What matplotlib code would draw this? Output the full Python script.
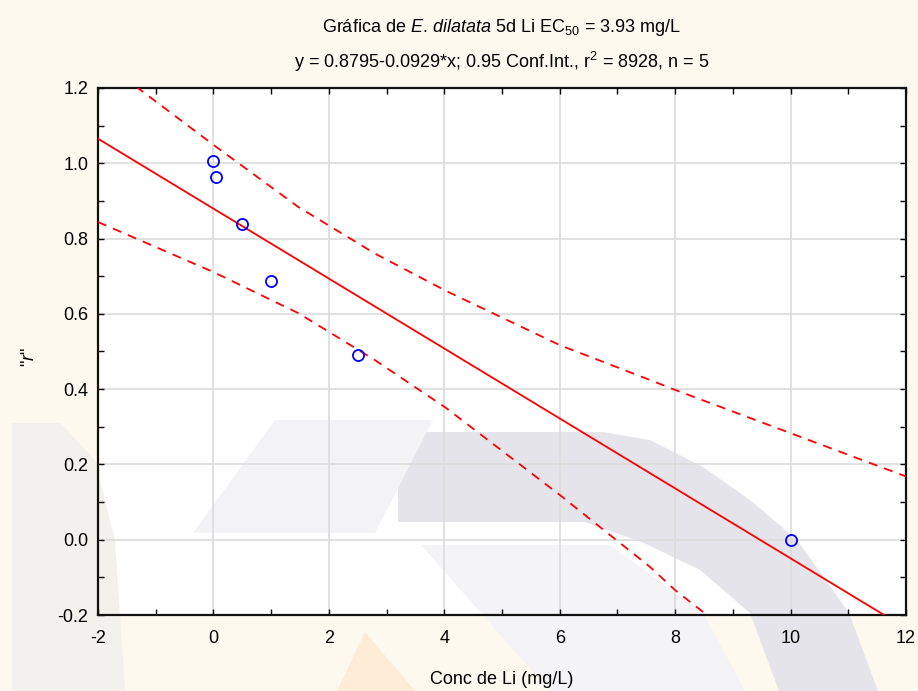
import matplotlib
matplotlib.use('agg')
import matplotlib.pyplot as plt
import numpy as np
from matplotlib.patches import Polygon
from matplotlib.ticker import MultipleLocator

# Data
conc = [0.0, 0.05, 0.5, 1.0, 2.5, 10.0]
r_vals = [1.005, 0.963, 0.838, 0.688, 0.490, 0.0]

intercept = 0.8795
slope = -0.0929

# 95% confidence bands
upper_x = [-2.0, -1.31, 0.0, 1.47, 2.8, 4.03, 6.0, 7.57, 8.0, 10.0, 12.0]
upper_y = [1.285, 1.2, 1.049, 0.884, 0.760, 0.661, 0.517, 0.424, 0.398, 0.283, 0.168]
lower_x = [-2.0, 0.0, 1.47, 2.8, 4.03, 6.0, 7.57, 8.0, 8.55, 9.0]
lower_y = [0.844, 0.711, 0.602, 0.477, 0.350, 0.119, -0.073, -0.134, -0.2, -0.26]

x_ticks = [-2, 0, 2, 4, 6, 8, 10, 12]
y_ticks = [-0.2, 0.0, 0.2, 0.4, 0.6, 0.8, 1.0, 1.2]

plt.rcParams['font.family'] = ['Liberation Sans', 'DejaVu Sans']
plt.rcParams['mathtext.fontset'] = 'custom'
plt.rcParams['mathtext.rm'] = 'Liberation Sans'
plt.rcParams['mathtext.it'] = 'Liberation Sans:italic'
plt.rcParams['axes.unicode_minus'] = False

W, H = 918, 691
fig = plt.figure(figsize=(W / 100, H / 100), dpi=100, facecolor='#fdf9ee')
ax = fig.add_axes([98 / W, 1 - 615 / H, 808 / W, 527 / H])
ax.set_facecolor('white')


# faint logo watermark behind the plot (pixel coords -> figure fraction)
def blob(pts, color):
    pts = np.asarray(pts, dtype=float)
    xy = np.column_stack([pts[:, 0] / W, 1 - pts[:, 1] / H])
    ax.add_patch(Polygon(xy, closed=True, transform=fig.transFigure,
                         facecolor=color, edgecolor='none', clip_on=False, zorder=0.4))


blob([(398, 432), (603, 432), (650, 440), (703, 467), (750, 500), (797, 540),
      (849, 613), (878, 691), (779, 691), (750, 613), (700, 570), (644, 543),
      (585, 522), (398, 522)], '#e5e4ea')
blob([(275, 420), (433, 420), (375, 533), (193, 533)], '#f3f3f6')
blob([(421, 545), (610, 545), (703, 613), (745, 691), (550, 691)], '#f4f3f5')
blob([(365, 632), (337, 691), (415, 691)], '#fdecd6')
blob([(12, 423), (60, 423), (95, 460), (115, 540), (125, 691), (12, 691)], '#f3f1ec')

# regression line
line_x = [-2.0, 12.0]
line_y = [intercept + slope * v for v in line_x]
ax.plot(line_x, line_y, color='red', lw=1.3, zorder=3)
ax.plot(upper_x, upper_y, color='red', lw=1.3, ls=(0, (5, 4)), zorder=3)
ax.plot(lower_x, lower_y, color='red', lw=1.3, ls=(0, (5, 4)), zorder=3)
ax.plot(conc, r_vals, 'o', ms=8, mfc='none', mec='blue', mew=1.3, zorder=4)

ax.set_xlim(-2, 12)
ax.set_ylim(-0.2, 1.2)
ax.set_xticks(x_ticks)
ax.set_yticks(y_ticks)
ax.set_yticklabels([f"{v:.1f}" for v in y_ticks])
ax.xaxis.set_minor_locator(MultipleLocator(1))
ax.yaxis.set_minor_locator(MultipleLocator(0.1))
ax.tick_params(which='both', direction='in', top=True, right=True,
               labelsize=13, length=4, width=1)
ax.tick_params(axis='x', pad=11)
ax.tick_params(axis='y', pad=7)
ax.grid(True, which='major', color='#dcdcdc', lw=1.2, zorder=0.5)
ax.set_axisbelow(True)
for s in ax.spines.values():
    s.set_linewidth(1.6)
    s.set_color('#111111')

ax.set_xlabel("Conc de Li (mg/L)", fontsize=13, labelpad=17)
ax.set_ylabel('"' + r'$\it{r}$' + '"', fontsize=13)
ax.yaxis.set_label_coords(-0.074, 0.49)

fig.text(502 / W, 1 - 27 / H,
         r"Gráfica de $\it{E.\,dilatata}$ 5d Li EC$_{50}$ = 3.93 mg/L",
         ha='center', va='center', fontsize=13)
fig.text(502 / W, 1 - 62 / H,
         r"y = 0.8795-0.0929*x; 0.95 Conf.Int., r$^2$ = 8928, n = 5",
         ha='center', va='center', fontsize=13)

fig.savefig("out.png", dpi=100, facecolor=fig.get_facecolor())
